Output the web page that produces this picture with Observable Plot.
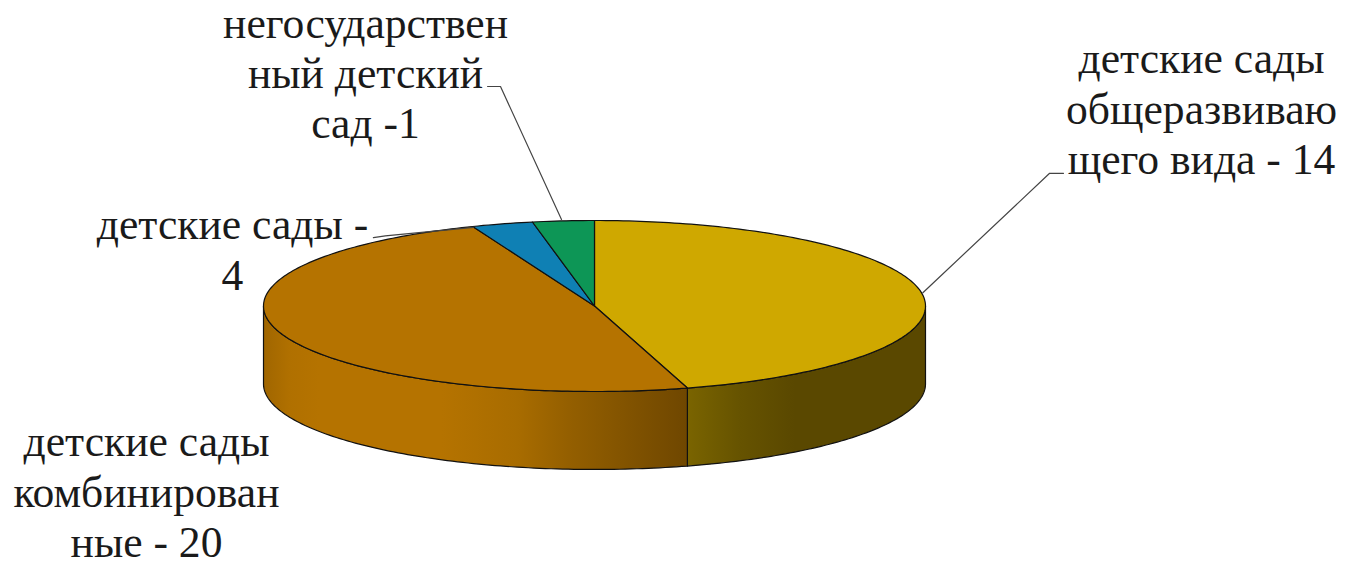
<!DOCTYPE html>
<html>
<head>
<meta charset="utf-8">
<script src="https://cdn.jsdelivr.net/npm/d3@7"></script>
<script src="https://cdn.jsdelivr.net/npm/@observablehq/plot@0.6"></script>
<style>
html,body{margin:0;padding:0;background:#fff;overflow:hidden}
svg{display:block}
</style>
</head>
<body>
<div id="chart"></div>
<script>
// Slice names and the counts printed in the labels
const categories = ["детские сады общеразвивающего вида", "детские сады комбинированные", "детские сады", "негосударственный детский сад"];
const labelValues = [14, 20, 4, 1];
// Share of the circle each slice occupies (degrees)
const drawnDegrees = [163.7, 174.7, 10.8, 10.8];
const sliceColors = ["#CFA800", "#B57300", "#0F80B4", "#0D9656"];
const labelTexts = [
  "детские сады\nобщеразвиваю\nщего вида - 14",
  "детские сады\nкомбинирован\nные - 20",
  "детские сады -\n4",
  "негосударствен\nный детский\nсад -1"
];

const DEPTH = 0.912;
const rad = d => d * Math.PI / 180;
const pt = (deg, drop = 0) => ({x: Math.sin(rad(deg)), y: Math.cos(rad(deg)) - drop});
const arc = (a, b, drop = 0) => {
  const n = Math.max(2, Math.ceil(Math.abs(b - a)));
  return d3.range(n + 1).map(i => pt(a + (b - a) * i / n, drop));
};

let acc = 0;
const slices = drawnDegrees.map((d, i) => {
  const a = acc; acc += d;
  return {a, b: acc, color: sliceColors[i], points: [{x: 0, y: 0}, ...arc(a, acc), {x: 0, y: 0}]};
});
const side = (a, b) => [...arc(a, b), ...arc(b, a, DEPTH), pt(a)];

const leaders = [
  [{x: 0.992, y: 0.155}, {x: 1.375, y: 1.552}, {x: 1.417, y: 1.552}],
  [{x: -0.0997, y: 1.012}, {x: -0.284, y: 2.567}, {x: -0.323, y: 2.567}],
  [{x: -0.668, y: 0.80}, {x: -0.632, y: 0.82}, {x: -0.366, y: 0.92}]
];

const gradients = (index, scales, values, dimensions, context) => {
  const defs = d3.create("svg:defs");
  const make = (id, a, b, stops) => {
    const g = defs.append("linearGradient").attr("id", id).attr("gradientUnits", "userSpaceOnUse")
      .attr("x1", scales.x(a)).attr("x2", scales.x(b)).attr("y1", 0).attr("y2", 0);
    stops.forEach(([o, c]) => g.append("stop").attr("offset", o).attr("stop-color", c));
  };
  make("sideYellow", 0.281, 1, [[0, "#7A6400"], [0.22, "#665300"], [0.45, "#5A4800"], [1, "#5A4800"]]);
  make("sideOrange", -1, 0.281, [[0, "#A06600"], [0.06, "#B07000"], [0.13, "#B57300"], [0.42, "#B57300"], [0.6, "#A86C00"], [0.72, "#945F00"], [0.87, "#805200"], [1, "#6F4700"]]);
  return defs.node();
};

const sideOpts = {x: "x", y: "y", stroke: "#111", strokeWidth: 1.2, strokeLinejoin: "round"};
const textOpts = {text: d => d, frameAnchor: "top-left", textAnchor: "middle", lineAnchor: "middle",
  fontFamily: "Liberation Serif", fontSize: 43.6, lineHeight: 1.155, fill: "#1a1a1a"};

const chart = Plot.plot({
  width: 1346,
  height: 564,
  margin: 0,
  style: {background: "#fff"},
  x: {domain: [-1, 1], range: [263, 925], axis: null},
  y: {domain: [-1, 1], range: [391, 220], axis: null},
  marks: [
    gradients,
    Plot.line(side(slices[0].b, 90), {...sideOpts, fill: "url(#sideYellow)"}),
    Plot.line(side(270, slices[0].b), {...sideOpts, fill: "url(#sideOrange)"}),
    ...slices.map(s => Plot.line(s.points, {x: "x", y: "y", fill: s.color, stroke: "#111", strokeWidth: 1.2, strokeLinejoin: "round"})),
    ...leaders.map(l => Plot.line(l, {x: "x", y: "y", stroke: "#444", strokeWidth: 1.2})),
    Plot.text([labelTexts[0]], {...textOpts, dx: 1201, dy: 107}),
    Plot.text([labelTexts[1]], {...textOpts, dx: 146, dy: 490}),
    Plot.text([labelTexts[2]], {...textOpts, dx: 232, dy: 248}),
    Plot.text([labelTexts[3]], {...textOpts, dx: 365, dy: 71.5})
  ]
});
document.getElementById("chart").append(chart);
</script>
</body>
</html>
